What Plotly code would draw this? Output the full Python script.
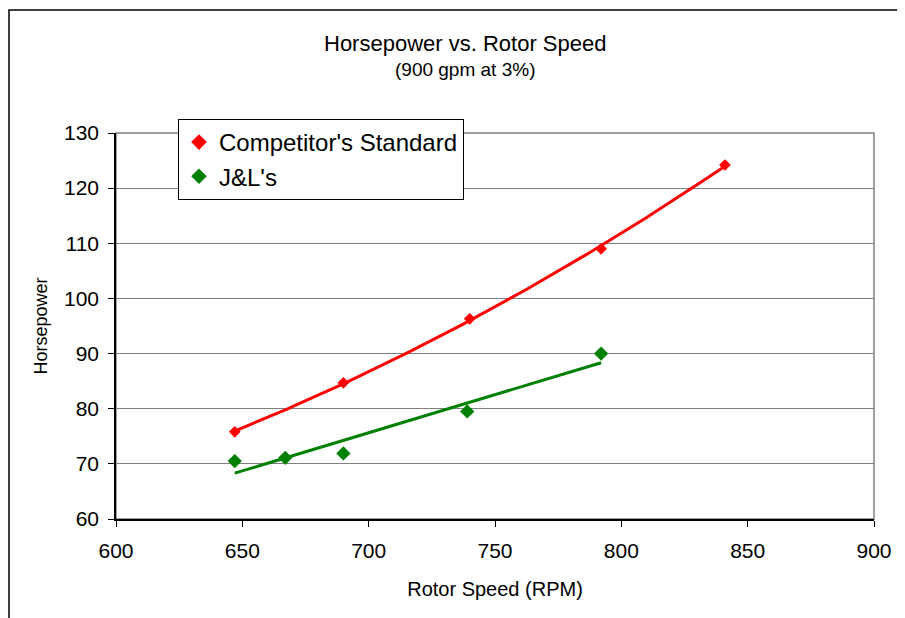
import numpy as np
import plotly.graph_objects as go

# ---- data ----
comp_rpm = [647, 690, 740, 792, 841]
comp_hp = [75.8, 84.7, 96.3, 109.0, 124.2]
jl_rpm = [647, 667, 690, 739, 792]
jl_hp = [70.5, 71.1, 71.9, 79.5, 90.0]

x_ticks = [600, 650, 700, 750, 800, 850, 900]
y_ticks = [60, 70, 80, 90, 100, 110, 120, 130]

title_text = "Horsepower vs. Rotor Speed"
subtitle_text = "(900 gpm at 3%)"
x_title = "Rotor Speed (RPM)"
y_title = "Horsepower"
series_names = ["Competitor's Standard", "J&L's"]

# ---- trendlines computed from the data (as a spreadsheet trendline would) ----
c_fit = np.polyfit(comp_rpm, comp_hp, 2)
c_x = np.linspace(min(comp_rpm), max(comp_rpm), 120)
c_y = np.polyval(c_fit, c_x)
j_fit = np.polyfit(jl_rpm, jl_hp, 1)
j_x = np.array([min(jl_rpm), max(jl_rpm)])
j_y = np.polyval(j_fit, j_x)

RED = "#FF0000"
GREEN = "#008000"
FONT = "Liberation Sans, Arial, sans-serif"

fig = go.Figure()
fig.add_trace(go.Scatter(x=c_x, y=c_y, mode="lines", line=dict(color=RED, width=3),
                         showlegend=False, hoverinfo="skip"))
fig.add_trace(go.Scatter(x=j_x, y=j_y, mode="lines", line=dict(color=GREEN, width=3),
                         showlegend=False, hoverinfo="skip"))
fig.add_trace(go.Scatter(x=comp_rpm, y=comp_hp, mode="markers", name=series_names[0],
                         marker=dict(symbol="diamond", color=RED, size=9)))
fig.add_trace(go.Scatter(x=jl_rpm, y=jl_hp, mode="markers", name=series_names[1],
                         marker=dict(symbol="diamond", color=GREEN, size=11)))

# page body has an 8px margin; figure coordinates = window coordinates - 8
OFF = 8
W, H = 905 - OFF, 618 - OFF
L, T = 116 - OFF, 133 - OFF
R = W - (874 - OFF)
B = H - (519 - OFF)
pw, ph = W - L - R, H - T - B

def px_x(p):  # window pixel -> paper
    return (p - OFF - L) / pw

def px_y(p):
    return (H - B - (p - OFF)) / ph

fig.update_layout(
    width=W, height=H,
    margin=dict(l=L, r=R, t=T, b=B),
    paper_bgcolor="white", plot_bgcolor="white",
    font=dict(family=FONT, color="black"),
    xaxis=dict(range=[600, 900], tickvals=x_ticks, showgrid=False, zeroline=False,
               showline=True, linecolor="black", linewidth=1.5,
               ticks="outside", ticklen=6, tickcolor="black", tickwidth=1,
               tickfont=dict(size=21), ticklabelstandoff=6,
               title=dict(text=x_title, font=dict(size=20), standoff=21)),
    yaxis=dict(range=[60, 130], tickvals=y_ticks, showgrid=True, gridcolor="#808080",
               gridwidth=1, zeroline=False,
               showline=True, linecolor="black", linewidth=1.5,
               ticks="outside", ticklen=6, tickcolor="black", tickwidth=1,
               tickfont=dict(size=21), ticklabelstandoff=5,
               title=dict(text=y_title, font=dict(size=18), standoff=12)),
    legend=dict(x=px_x(178), y=px_y(119), xanchor="left", yanchor="top",
                bgcolor="white", bordercolor="black", borderwidth=1,
                font=dict(size=24), itemsizing="constant",
                tracegroupgap=0),
    shapes=[
        dict(type="rect", xref="paper", yref="paper", x0=0, x1=1, y0=0, y1=1,
             line=dict(color="#808080", width=1.5), layer="below"),
        dict(type="rect", xref="paper", yref="paper",
             x0=px_x(9), x1=px_x(960), y0=px_y(660), y1=px_y(10),
             line=dict(color="black", width=1.5)),
    ],
    annotations=[
        dict(text=title_text, xref="paper", yref="paper", x=px_x(465), y=px_y(43),
             xanchor="center", yanchor="middle", showarrow=False, font=dict(size=22)),
        dict(text=subtitle_text, xref="paper", yref="paper", x=px_x(465), y=px_y(69),
             xanchor="center", yanchor="middle", showarrow=False, font=dict(size=19)),
    ],
)

fig.write_html("out.html")
